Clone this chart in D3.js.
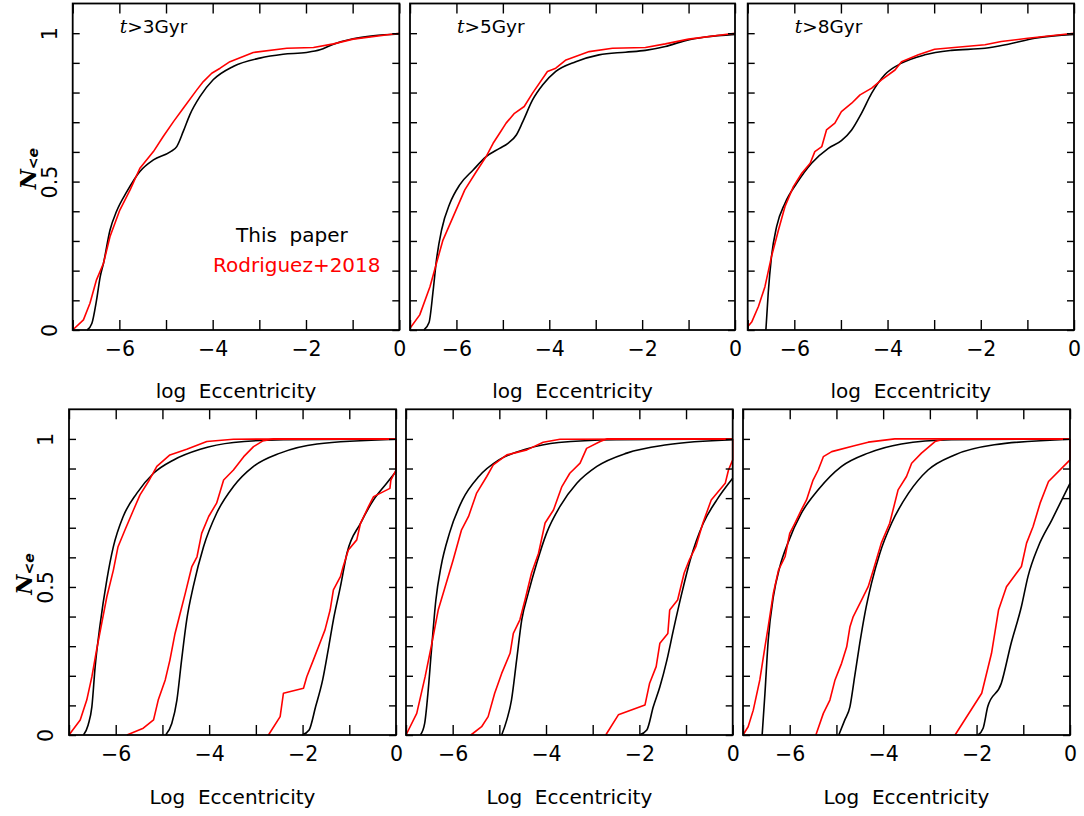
<!DOCTYPE html>
<html><head><meta charset="utf-8">
<script src="https://cdn.jsdelivr.net/npm/d3@7"></script>
<style>body{margin:0;background:#fff}svg{display:block}</style>
</head><body>
<svg id="c" width="1084" height="816"></svg>
<script>
// ---------- data ----------
const xTicks = [-7, -6, -5, -4, -3, -2, -1, 0];
const xTickLabels = [-6, -4, -2, 0];
const yTicks = [0, 0.1, 0.2, 0.3, 0.4, 0.5, 0.6, 0.7, 0.8, 0.9, 1.0];
const yTickLabels = [0, 0.5, 1];
const ageCuts = ["3", "5", "8"];
const legendLabels = ["This\u00a0\u00a0paper", "Rodriguez+2018"];
const topXLabel = "log\u00a0\u00a0Eccentricity";
const botXLabel = "Log\u00a0\u00a0Eccentricity";

// top row: cumulative distributions, t > 3, 5, 8 Gyr  ([log e, N<e])
const top3Model = [[-6.69,0],[-6.59,0.022],[-6.49,0.10],[-6.41,0.18],[-6.34,0.225],[-6.2,0.337],[-6.06,0.40],[-5.84,0.466],[-5.56,0.534],[-5.27,0.573],[-4.91,0.60],[-4.77,0.618],[-4.63,0.669],[-4.49,0.725],[-4.27,0.787],[-3.99,0.843],[-3.56,0.888],[-2.99,0.916],[-2.49,0.929],[-1.99,0.935],[-1.70,0.944],[-1.41,0.963],[-0.99,0.981],[-0.56,0.991],[0,0.997]];
const top3Rod = [[-7,0],[-6.77,0.034],[-6.63,0.09],[-6.49,0.169],[-6.34,0.225],[-6.2,0.315],[-5.99,0.404],[-5.77,0.472],[-5.56,0.545],[-5.27,0.601],[-5.06,0.652],[-4.84,0.702],[-4.63,0.747],[-4.34,0.809],[-4.2,0.837],[-4.02,0.865],[-3.84,0.882],[-3.63,0.904],[-3.13,0.935],[-2.41,0.949],[-1.84,0.952],[-1.41,0.964],[-0.99,0.98],[0,1.0]];
const top5Model = [[-6.7,0],[-6.59,0.025],[-6.5,0.135],[-6.43,0.236],[-6.32,0.337],[-6.14,0.427],[-5.93,0.489],[-5.64,0.539],[-5.36,0.584],[-5.07,0.612],[-4.89,0.629],[-4.71,0.657],[-4.57,0.702],[-4.36,0.775],[-4.14,0.826],[-3.86,0.871],[-3.43,0.904],[-2.93,0.927],[-2.36,0.936],[-1.93,0.942],[-1.5,0.955],[-1.07,0.975],[-0.64,0.987],[0,0.996]];
const top5Rod = [[-7,0.006],[-6.79,0.051],[-6.57,0.146],[-6.43,0.225],[-6.29,0.303],[-6.07,0.382],[-5.82,0.472],[-5.57,0.534],[-5.36,0.584],[-5.21,0.629],[-5.07,0.663],[-4.93,0.697],[-4.75,0.730],[-4.54,0.753],[-4.36,0.798],[-4.04,0.871],[-3.86,0.882],[-3.64,0.910],[-3.14,0.938],[-2.64,0.949],[-1.93,0.952],[-1.5,0.964],[-1.0,0.98],[0,1.0]];
const top8Model = [[-6.61,0],[-6.56,0.124],[-6.49,0.247],[-6.38,0.348],[-6.2,0.427],[-5.95,0.494],[-5.63,0.562],[-5.27,0.612],[-4.99,0.638],[-4.77,0.674],[-4.56,0.730],[-4.34,0.798],[-4.06,0.86],[-3.7,0.899],[-3.2,0.927],[-2.63,0.942],[-1.91,0.949],[-1.41,0.963],[-0.84,0.983],[0,0.996]];
const top8Rod = [[-7,0.011],[-6.91,0.028],[-6.77,0.079],[-6.63,0.146],[-6.49,0.247],[-6.34,0.337],[-6.2,0.416],[-6.02,0.483],[-5.84,0.528],[-5.66,0.562],[-5.56,0.601],[-5.41,0.618],[-5.31,0.674],[-5.13,0.697],[-4.99,0.736],[-4.77,0.764],[-4.59,0.792],[-4.34,0.815],[-4.13,0.843],[-3.84,0.876],[-3.7,0.904],[-3.34,0.927],[-2.99,0.946],[-1.91,0.961],[-1.56,0.972],[-0.99,0.983],[0,1.0]];

// bottom row: three populations (A, B, C) per panel
const bot3ModelA = [[-6.69,0],[-6.59,0.034],[-6.51,0.096],[-6.44,0.231],[-6.34,0.366],[-6.19,0.524],[-6.05,0.636],[-5.84,0.738],[-5.55,0.816],[-5.19,0.884],[-4.76,0.929],[-4.19,0.965],[-3.48,0.988],[-2.41,0.997],[0,1.0]];
const bot3RodA = [[-7,0],[-6.76,0.051],[-6.62,0.118],[-6.51,0.197],[-6.41,0.287],[-6.3,0.377],[-6.19,0.467],[-6.05,0.557],[-5.95,0.636],[-5.8,0.693],[-5.62,0.76],[-5.48,0.811],[-5.3,0.856],[-5.12,0.907],[-4.84,0.946],[-4.48,0.965],[-4.05,0.991],[-3.48,0.999],[0,1]];
const bot3ModelB = [[-4.93,0],[-4.8,0.039],[-4.69,0.118],[-4.59,0.253],[-4.48,0.389],[-4.34,0.501],[-4.12,0.636],[-3.84,0.749],[-3.48,0.839],[-3.05,0.907],[-2.48,0.952],[-1.69,0.983],[0,0.999]];
const bot3RodB = [[-5.76,0],[-5.41,0.023],[-5.19,0.051],[-5.09,0.118],[-4.94,0.186],[-4.84,0.253],[-4.73,0.343],[-4.62,0.411],[-4.51,0.479],[-4.37,0.569],[-4.26,0.602],[-4.16,0.681],[-4.01,0.738],[-3.84,0.783],[-3.69,0.861],[-3.48,0.895],[-3.26,0.94],[-3.05,0.974],[-2.84,0.994],[-2.62,1.0],[0,1]];
const bot3ModelC = [[-2.01,0],[-1.86,0.017],[-1.72,0.096],[-1.57,0.186],[-1.44,0.298],[-1.34,0.389],[-1.19,0.501],[-1.05,0.614],[-0.76,0.715],[-0.48,0.794],[-0.2,0.85],[0,0.89]];
const bot3RodC = [[-2.73,0],[-2.48,0.062],[-2.41,0.141],[-1.98,0.158],[-1.91,0.197],[-1.77,0.253],[-1.63,0.31],[-1.52,0.355],[-1.41,0.422],[-1.34,0.49],[-1.19,0.535],[-1.13,0.569],[-1.02,0.625],[-0.84,0.659],[-0.76,0.715],[-0.59,0.771],[-0.48,0.805],[-0.13,0.833],[-0.11,0.861],[0,0.895],[0,1.0]];

const bot5ModelA = [[-6.69,0],[-6.6,0.039],[-6.53,0.141],[-6.46,0.276],[-6.36,0.456],[-6.25,0.569],[-6.07,0.681],[-5.79,0.794],[-5.44,0.873],[-5.01,0.929],[-4.44,0.965],[-3.73,0.988],[-2.49,0.997],[0,1]];
const bot5RodA = [[-7,0],[-6.77,0.073],[-6.59,0.197],[-6.46,0.298],[-6.31,0.422],[-6.14,0.512],[-5.99,0.591],[-5.81,0.693],[-5.66,0.738],[-5.49,0.816],[-5.27,0.873],[-5.13,0.912],[-4.84,0.946],[-4.41,0.963],[-4.06,0.989],[-3.7,0.999],[0,1]];
const bot5ModelB = [[-4.95,0],[-4.84,0.051],[-4.74,0.118],[-4.63,0.253],[-4.52,0.389],[-4.38,0.479],[-4.2,0.58],[-3.99,0.681],[-3.7,0.772],[-3.34,0.85],[-2.91,0.907],[-2.27,0.952],[-1.41,0.98],[0,0.997]];
const bot5RodB = [[-5.61,0],[-5.38,0.028],[-5.24,0.062],[-5.1,0.141],[-4.95,0.208],[-4.77,0.276],[-4.7,0.343],[-4.56,0.389],[-4.45,0.456],[-4.31,0.547],[-4.16,0.614],[-4.02,0.716],[-3.84,0.76],[-3.66,0.839],[-3.49,0.884],[-3.27,0.918],[-3.13,0.968],[-2.84,0.991],[-2.7,1.0],[0,1]];
const bot5ModelC = [[-2.0,0],[-1.84,0.017],[-1.7,0.096],[-1.56,0.163],[-1.41,0.253],[-1.27,0.355],[-1.09,0.479],[-0.91,0.591],[-0.63,0.715],[-0.34,0.794],[0,0.867]];
const bot5RodC = [[-2.72,0],[-2.45,0.068],[-1.88,0.101],[-1.78,0.175],[-1.64,0.231],[-1.56,0.31],[-1.39,0.343],[-1.35,0.422],[-1.18,0.456],[-1.04,0.547],[-0.93,0.591],[-0.79,0.636],[-0.64,0.715],[-0.46,0.794],[-0.16,0.85],[-0.09,0.895],[0,0.929],[0,1.0]];

const bot8ModelA = [[-6.59,0],[-6.53,0.141],[-6.46,0.321],[-6.35,0.467],[-6.21,0.569],[-6.04,0.648],[-5.75,0.749],[-5.39,0.828],[-4.89,0.907],[-4.32,0.952],[-3.61,0.983],[-2.54,0.997],[0,1]];
const bot8RodA = [[-7,0],[-6.89,0.028],[-6.78,0.084],[-6.64,0.186],[-6.53,0.298],[-6.46,0.366],[-6.35,0.479],[-6.24,0.557],[-6.1,0.602],[-6.0,0.681],[-5.89,0.715],[-5.75,0.76],[-5.64,0.794],[-5.5,0.861],[-5.39,0.895],[-5.28,0.94],[-5.1,0.957],[-4.64,0.976],[-4.32,0.989],[-3.75,1.0],[0,1]];
const bot8ModelB = [[-4.95,0],[-4.82,0.051],[-4.71,0.096],[-4.61,0.197],[-4.5,0.31],[-4.39,0.411],[-4.25,0.512],[-4.07,0.614],[-3.82,0.715],[-3.46,0.816],[-3.04,0.895],[-2.47,0.946],[-1.62,0.98],[0,0.999]];
const bot8RodB = [[-5.44,0],[-5.28,0.073],[-5.14,0.118],[-5.03,0.186],[-4.89,0.242],[-4.78,0.298],[-4.71,0.366],[-4.64,0.4],[-4.46,0.456],[-4.32,0.501],[-4.21,0.557],[-4.04,0.648],[-3.86,0.715],[-3.68,0.828],[-3.5,0.873],[-3.39,0.918],[-3.18,0.952],[-2.89,0.991],[-2.68,1.0],[0,1]];
const bot8ModelC = [[-1.97,0],[-1.86,0.023],[-1.76,0.096],[-1.47,0.175],[-1.26,0.31],[-1.04,0.434],[-0.9,0.535],[-0.68,0.636],[-0.39,0.726],[0,0.85]];
const bot8RodC = [[-2.46,0],[-1.89,0.141],[-1.68,0.276],[-1.53,0.422],[-1.36,0.501],[-1.04,0.569],[-0.93,0.648],[-0.79,0.704],[-0.64,0.783],[-0.46,0.856],[0,0.929],[0,1.0]];

// ---------- layout ----------
const FONT = "'DejaVu Sans', sans-serif";
const svg = d3.select("#c");
const topBoxes = [[72.7,399.3],[410,735],[747.7,1074]];
const botBoxes = [[69,396],[406,732.7],[743,1070]];
const topY = [330, 3.5], botY = [735, 409.3];

const topPanels = [
  {model:[top3Model], rod:[top3Rod]},
  {model:[top5Model], rod:[top5Rod]},
  {model:[top8Model], rod:[top8Rod]}
];
const botPanels = [
  {model:[bot3ModelA,bot3ModelB,bot3ModelC], rod:[bot3RodA,bot3RodB,bot3RodC]},
  {model:[bot5ModelA,bot5ModelB,bot5ModelC], rod:[bot5RodA,bot5RodB,bot5RodC]},
  {model:[bot8ModelA,bot8ModelB,bot8ModelC], rod:[bot8RodA,bot8RodB,bot8RodC]}
];

function panel(box, yr, data, showY, xlabel, idx, isTop) {
  const x = d3.scaleLinear().domain([-7, 0]).range(box);
  const y = d3.scaleLinear().domain([0, 1.1]).range(yr);
  const g = svg.append("g");

  const smooth = d3.line().x(d => x(d[0])).y(d => y(d[1])).curve(d3.curveMonotoneX);
  const jag = d3.line().x(d => x(d[0])).y(d => y(d[1]));
  data.model.forEach(c => g.append("path").attr("d", smooth(c)).attr("fill","none")
     .attr("stroke","#000").attr("stroke-width",1.6).attr("stroke-linejoin","round"));
  data.rod.forEach(c => g.append("path").attr("d", jag(c)).attr("fill","none")
     .attr("stroke","#ff0000").attr("stroke-width",1.6).attr("stroke-linejoin","round"));

  const xfmt = d => xTickLabels.includes(d) ? d3.format("d")(d) : "";
  const ax = g.append("g").attr("transform",`translate(0,${yr[0]})`)
    .call(d3.axisBottom(x).tickValues(xTicks).tickSizeInner(-10).tickSizeOuter(0).tickFormat(xfmt));
  ax.selectAll("text").attr("y", 26).attr("dy", 0).attr("font-size", 20.5).attr("font-family", FONT).attr("fill","#000");
  g.append("g").attr("transform",`translate(0,${yr[1]})`)
    .call(d3.axisTop(x).tickValues(xTicks).tickSizeInner(-10).tickSizeOuter(0).tickFormat(""));
  const ay = g.append("g").attr("transform",`translate(${box[0]},0)`)
    .call(d3.axisLeft(y).tickValues(yTicks).tickSizeInner(-7).tickSizeOuter(0)
      .tickFormat(d => showY && yTickLabels.includes(d) ? String(d) : ""));
  ay.selectAll("text").attr("x", 0).attr("dy", 0).attr("text-anchor","middle")
    .attr("transform","translate(-16,0) rotate(-90)").attr("font-size", 20.5).attr("font-family", FONT).attr("fill","#000");
  g.append("g").attr("transform",`translate(${box[1]},0)`)
    .call(d3.axisRight(y).tickValues(yTicks).tickSizeInner(-7).tickSizeOuter(0).tickFormat(""));
  g.selectAll(".domain").remove();
  g.selectAll(".tick line").attr("stroke","#000").attr("stroke-width",1.4);

  g.append("rect").attr("x", box[0]).attr("y", yr[1]).attr("width", box[1]-box[0]).attr("height", yr[0]-yr[1])
    .attr("fill","none").attr("stroke","#000").attr("stroke-width",1.8);

  g.append("text").attr("x", (box[0]+box[1])/2).attr("y", yr[0] + (isTop ? 68 : 69))
    .attr("text-anchor","middle").attr("font-family", FONT).attr("font-size", 20).text(xlabel);

  if (showY) {
    const yl = g.append("text").attr("transform",`translate(${box[0]-37},${y(0.5)-13}) rotate(-90)`)
      .attr("text-anchor","middle");
    yl.append("tspan").attr("font-family","'DejaVu Serif', serif").attr("font-style","italic")
      .attr("font-weight","bold").attr("font-size", 22).text("N");
    yl.append("tspan").attr("font-family", FONT).attr("font-style","italic").attr("font-weight","bold")
      .attr("font-size", 14).attr("dy", 2).text("<e");
  }
  if (isTop) {
    const t = g.append("text").attr("x", box[0] + 47).attr("y", 33).attr("font-family", FONT).attr("font-size", 18.5);
    t.append("tspan").attr("font-family","'DejaVu Serif', serif").attr("font-style","italic").text("t");
    t.append("tspan").text(">" + ageCuts[idx] + "Gyr");
  }
  return g;
}

topBoxes.forEach((b, i) => panel(b, topY, topPanels[i], i === 0, topXLabel, i, true));
botBoxes.forEach((b, i) => panel(b, botY, botPanels[i], i === 0, botXLabel, i, false));

// legend in first panel
svg.append("text").attr("x", 236).attr("y", 242).attr("font-family", FONT).attr("font-size", 20)
  .attr("fill", "#000").text(legendLabels[0]);
svg.append("text").attr("x", 213).attr("y", 272).attr("font-family", FONT).attr("font-size", 20)
  .attr("fill", "#ff0000").text(legendLabels[1]);
</script>
</body></html>
